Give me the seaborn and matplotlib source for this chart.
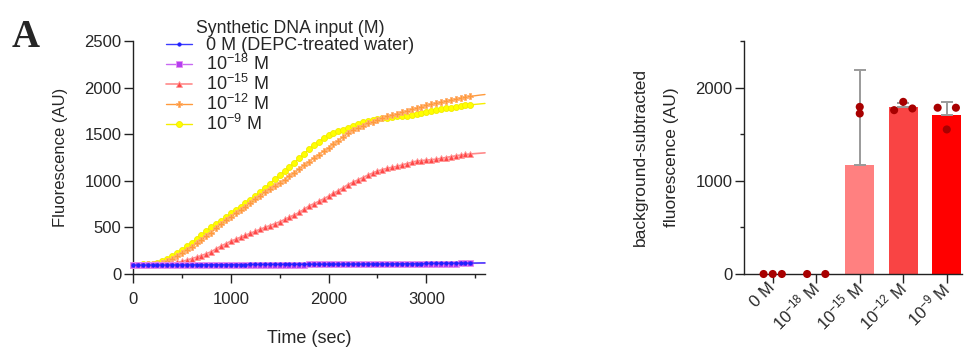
import numpy as np
import pandas as pd
import matplotlib
matplotlib.use("Agg")
import matplotlib.pyplot as plt
from matplotlib.ticker import MultipleLocator, FixedLocator
import seaborn as sns

# ---------------- data ----------------
time_s = list(range(0, 3601, 50))

series_labels = ["0 M (DEPC-treated water)", "10$^{-18}$ M", "10$^{-15}$ M",
                 "10$^{-12}$ M", "10$^{-9}$ M"]

fluor_0M = [96, 96, 96, 96, 97, 97, 97, 97, 98, 98,
            98, 98, 99, 99, 99, 99, 100, 100, 100, 100,
            101, 101, 101, 101, 102, 102, 102, 102, 103, 103,
            103, 103, 104, 104, 104, 104, 105, 105, 105, 105,
            106, 106, 106, 106, 107, 107, 107, 107, 108, 108,
            108, 108, 109, 109, 110, 110, 111, 111, 112, 112,
            113, 113, 114, 114, 115, 115, 116, 116, 117, 117,
            118, 119, 120]
fluor_1e18 = [93, 93, 93, 93, 94, 94, 94, 94, 95, 95,
              95, 95, 96, 96, 96, 96, 97, 97, 97, 97,
              98, 98, 98, 98, 99, 99, 99, 99, 100, 100,
              100, 100, 101, 101, 101, 101, 102, 102, 102, 102,
              103, 103, 103, 103, 104, 104, 104, 104, 105, 105,
              105, 105, 106, 106, 107, 107, 108, 108, 109, 109,
              110, 110, 110, 111, 111, 112, 112, 113, 113, 114,
              114, 115, 115]
fluor_1e15 = [100, 100, 100, 100, 101, 103, 105, 109, 115, 124,
              135, 149, 165, 181, 198, 218, 240, 270, 300, 326,
              352, 373, 395, 416, 437, 458, 480, 500, 520, 540,
              560, 585, 610, 635, 660, 695, 730, 755, 780, 807,
              835, 865, 895, 927, 960, 985, 1010, 1035, 1060, 1083,
              1105, 1120, 1135, 1145, 1155, 1170, 1185, 1198, 1212, 1217,
              1222, 1227, 1232, 1241, 1250, 1259, 1268, 1276, 1283, 1288,
              1292, 1296, 1300]
fluor_1e12 = [100, 100, 101, 103, 106, 112, 122, 140, 165, 195,
              228, 261, 295, 330, 365, 405, 445, 490, 535, 575,
              615, 650, 685, 722, 760, 800, 840, 875, 910, 942,
              975, 1012, 1050, 1087, 1125, 1165, 1205, 1242, 1280, 1317,
              1355, 1392, 1430, 1470, 1510, 1540, 1570, 1593, 1615, 1635,
              1655, 1672, 1690, 1705, 1720, 1736, 1752, 1768, 1785, 1796,
              1808, 1822, 1835, 1847, 1858, 1869, 1880, 1889, 1898, 1906,
              1913, 1920, 1926]
fluor_1e9 = [100, 100, 102, 105, 110, 120, 135, 160, 190, 224,
             260, 297, 335, 377, 420, 463, 505, 538, 570, 610,
             650, 685, 720, 757, 795, 837, 880, 925, 970, 1015,
             1060, 1105, 1150, 1195, 1240, 1290, 1340, 1382, 1420, 1457,
             1490, 1512, 1530, 1548, 1565, 1588, 1610, 1626, 1640, 1652,
             1662, 1670, 1678, 1684, 1690, 1695, 1700, 1707, 1715, 1726,
             1738, 1749, 1760, 1769, 1778, 1785, 1792, 1800, 1808, 1814,
             1820, 1825, 1830]

bar_labels = ["0 M", "10$^{-18}$ M", "10$^{-15}$ M", "10$^{-12}$ M", "10$^{-9}$ M"]
bar_means = [0, 0, 1168, 1788, 1704]
bar_sd_upper = [0, 0, 1020, 47, 143]
rep_group = [0, 0, 0, 1, 1, 2, 2, 3, 3, 3, 4, 4, 4]
rep_values = [0, 0, 0, 0, 0, 1793, 1722, 1758, 1847, 1776, 1784, 1551, 1784]

# ---------------- style ----------------
sns.set_theme(style="ticks")
plt.rcParams["font.family"] = ["Liberation Sans", "DejaVu Sans"]
plt.rcParams["mathtext.fontset"] = "custom"
plt.rcParams["mathtext.rm"] = "Liberation Sans"
plt.rcParams["mathtext.it"] = "Liberation Sans:italic"
plt.rcParams["mathtext.bf"] = "Liberation Sans:bold"
plt.rcParams["axes.linewidth"] = 1.0
plt.rcParams["axes.edgecolor"] = "#222222"

FS = 12
W, H = 965, 347
fig = plt.figure(figsize=(W / 100, H / 100), dpi=100)

# ---------------- left panel ----------------
ax1 = fig.add_axes([133 / W, 1 - 274 / H, (485 - 133) / W, (274 - 41) / H])

styles = [
    dict(color="#3a3aff", marker="o", markersize=2.4, mfc="#2020ff", mec="#2020ff",
         lw=1.0, z=6),
    dict(color="#c86af2", marker="s", markersize=3.9, mfc="#b43ef0", mec="#e890f2",
         lw=1.0, z=5),
    dict(color="#ff8a8a", marker="^", markersize=4.3, mfc="#ff4848", mec="#ff9a9a",
         lw=1.2, z=4),
    dict(color="#ff9a3c", marker="P", markersize=4.6, mfc="#ff9a3c", mec="#ffb070",
         lw=1.0, z=3),
    dict(color="#f5ee00", marker="o", markersize=4.3, mfc="#ffff00", mec="#f2ea00",
         lw=1.0, z=2),
]
all_series = [fluor_0M, fluor_1e18, fluor_1e15, fluor_1e12, fluor_1e9]

for lab, vals, st in zip(series_labels, all_series, styles):
    sns.lineplot(x=time_s, y=vals, ax=ax1, label=lab, color=st["color"],
                 marker=st["marker"], markersize=st["markersize"],
                 markerfacecolor=st["mfc"], markeredgecolor=st["mec"],
                 markeredgewidth=0.6, linewidth=st["lw"],
                 markevery=slice(0, 70), zorder=st["z"], clip_on=False)

ax1.set_xlim(0, 3600)
ax1.set_ylim(0, 2500)
ax1.xaxis.set_major_locator(MultipleLocator(1000))
ax1.xaxis.set_minor_locator(MultipleLocator(500))
ax1.yaxis.set_major_locator(MultipleLocator(500))
sns.despine(ax=ax1)
ax1.tick_params(axis="both", which="major", length=6.3, width=1.0,
                labelsize=FS, color="#222222")
ax1.tick_params(axis="x", which="major", pad=7)
ax1.tick_params(axis="y", which="major", pad=2)
ax1.tick_params(axis="x", which="minor", length=3.2, width=1.0, color="#222222")
ax1.set_xlabel("Time (sec)", fontsize=13, labelpad=16)
ax1.set_ylabel("Fluorescence (AU)", fontsize=FS, labelpad=12)

handles, labels = ax1.get_legend_handles_labels()
leg = ax1.legend(handles, labels, title="Synthetic DNA input (M)",
                 loc="upper left", bbox_to_anchor=(166 / W, 1 - 20 / H),
                 bbox_transform=fig.transFigure, frameon=False, fontsize=13,
                 title_fontsize=12.7, borderpad=0, labelspacing=0.0,
                 handlelength=1.45, handletextpad=0.75, numpoints=1,
                 borderaxespad=0)

# ---------------- right panel ----------------
ax2 = fig.add_axes([744 / W, 1 - 274 / H, (962 - 744) / W, (274 - 41) / H])
bar_colors = ["#ff8080", "#ff8080", "#ff8080", "#f94444", "#ff0000"]
bar_df = pd.DataFrame({"conc": bar_labels, "value": bar_means})
sns.barplot(data=bar_df, x="conc", y="value", hue="conc", palette=bar_colors,
            width=0.667, legend=False, ax=ax2, errorbar=None,
            saturation=1, linewidth=0)

pos = np.arange(len(bar_labels))
sd = np.array(bar_sd_upper, dtype=float)
mask = sd > 0
ax2.errorbar(pos[mask], np.array(bar_means)[mask],
             yerr=[np.zeros(mask.sum()), sd[mask]], fmt="none",
             ecolor="#9a9a9a", elinewidth=1.4, capsize=4, capthick=1.4, zorder=3)

# replicate dots, spread side-by-side within each group
dot_offsets = {3: [-0.21, 0.0, 0.21], 2: [-0.21, 0.21]}
xs = []
counts = {g: rep_group.count(g) for g in set(rep_group)}
seen = {}
for g, v in zip(rep_group, rep_values):
    k = seen.get(g, 0)
    seen[g] = k + 1
    if g == 2:
        xs.append(g)
    else:
        xs.append(g + dot_offsets[counts[g]][k])
sns.scatterplot(x=xs, y=rep_values, ax=ax2, color="#a80000", s=34,
                edgecolor="none", zorder=5, clip_on=False, legend=False)

ax2.set_xlim(-0.66, 4.35)
ax2.set_ylim(0, 2500)
ax2.yaxis.set_major_locator(FixedLocator([0, 1000, 2000]))
ax2.yaxis.set_minor_locator(FixedLocator([500, 1500, 2500]))
ax2.set_xticks(pos)
ax2.set_xticklabels(bar_labels)
sns.despine(ax=ax2)
ax2.tick_params(axis="both", which="major", length=6.3, width=1.0,
                labelsize=FS, color="#222222")
ax2.tick_params(axis="y", which="major", pad=2)
ax2.tick_params(axis="x", which="major", pad=2)
ax2.tick_params(axis="y", which="minor", length=3.0, width=1.0, color="#222222")
for t in ax2.get_xticklabels():
    t.set_rotation(45)
    t.set_ha("right")
    t.set_va("center")
    t.set_rotation_mode("anchor")
ax2.set_xlabel("")
ax2.set_ylabel("background-subtracted\nfluorescence (AU)", fontsize=12.5,
               labelpad=12, linespacing=2.3)

fig.text(12 / W, 1 - 47 / H, "A", fontsize=28, fontweight="bold",
         family="Liberation Serif", va="baseline", ha="left")

fig.savefig("out.png", dpi=100)
